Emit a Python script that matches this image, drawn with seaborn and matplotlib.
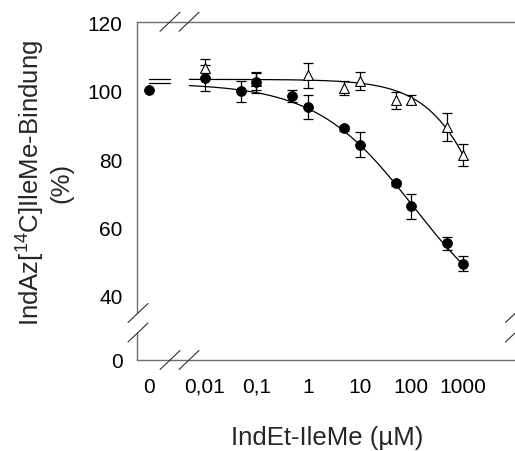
import numpy as np
import pandas as pd
import matplotlib
matplotlib.use("Agg")
import matplotlib.pyplot as plt
from matplotlib.lines import Line2D
import matplotlib.transforms as mtransforms
import seaborn as sns

# ---------------- data ----------------
# filled circles
conc_circle = [0, 0.01, 0.05, 0.1, 0.5, 1, 5, 10, 50, 100, 500, 1000]
bind_circle = [100.1, 103.6, 99.8, 102.4, 98.5, 95.2, 89.0, 84.2, 72.9, 66.2, 55.3, 49.4]
err_circle = [0.0, 3.8, 3.0, 3.2, 1.8, 3.6, 0.8, 3.7, 0.8, 3.7, 2.0, 2.3]

# open triangles
conc_tri = [0.01, 0.1, 1, 5, 10, 50, 100, 500, 1000]
bind_tri = [106.7, 102.8, 104.5, 100.8, 102.8, 97.2, 97.4, 89.4, 81.3]
err_tri = [2.7, 2.5, 3.6, 2.0, 2.6, 2.5, 1.3, 4.2, 3.2]

# fitted sigmoid parameters (top, bottom, IC50, Hill)
fit_circle = dict(top=102.2, bottom=30.0, ic50=110.0, hill=0.46)
fit_tri = dict(top=103.3, bottom=0.0, ic50=6500.0, hill=0.70)

xtick_vals = [0, 0.01, 0.1, 1, 10, 100, 1000]
xtick_labels = ["0", "0,01", "0,1", "1", "10", "100", "1000"]
ytick_vals = [0, 40, 60, 80, 100, 120]
ytick_labels = ["0", "40", "60", "80", "100", "120"]

# ---------------- style ----------------
sns.set_style("white")
plt.rcParams["font.family"] = ["Liberation Sans", "DejaVu Sans"]
plt.rcParams["mathtext.default"] = "regular"

W, H = 515, 452
SPINE = "#6e6e6e"
fig = plt.figure(figsize=(W / 100, H / 100), dpi=100)

# axes placed in pixels (left 137, top 23, bottom 361, right just outside image)
ax = fig.add_axes([137 / W, (H - 361) / H, (516 - 137) / W, (361 - 23.3) / H])

# ---------------- broken scales ----------------
X0_POS = -3.081          # scale position of concentration 0
XB = 0.005               # start of log part
XB_POS = np.log10(XB)


def xf(x):
    x = np.asarray(x, dtype=float)
    safe = np.where(x > XB, x, XB)
    lg = np.log10(safe)
    lin = X0_POS + (x / XB) * (XB_POS - X0_POS)
    return np.where(x > XB, lg, lin)


def xi(s):
    s = np.asarray(s, dtype=float)
    pw = np.power(10.0, np.clip(s, XB_POS, 50))
    lin = (s - X0_POS) / (XB_POS - X0_POS) * XB
    return np.where(s > XB_POS, pw, lin)


Y0_POS = 21.2
YB = 40.0


def yf(y):
    y = np.asarray(y, dtype=float)
    return np.where(y >= YB, y, Y0_POS + y * (YB - Y0_POS) / YB)


def yi(s):
    s = np.asarray(s, dtype=float)
    return np.where(s >= YB, s, (s - Y0_POS) * YB / (YB - Y0_POS))


ax.set_xscale("function", functions=(xf, xi))
ax.set_yscale("function", functions=(yf, yi))

# ---------------- curves ----------------
def logistic(x, p):
    x = np.asarray(x, dtype=float)
    return p["bottom"] + (p["top"] - p["bottom"]) / (1 + (x / p["ic50"]) ** p["hill"])


xc = np.logspace(np.log10(XB), 3, 200)
curves = pd.concat([
    pd.DataFrame({"x": xc, "y": logistic(xc, fit_circle), "s": "c"}),
    pd.DataFrame({"x": xc, "y": logistic(xc, fit_tri), "s": "t"}),
])
sns.lineplot(data=curves, x="x", y="y", units="s", estimator=None,
             color="black", lw=0.9, ax=ax, legend=False, sort=False, zorder=2)

# plateau pieces in the "0" segment
x_zero_end = float(xi((170 - 308) / 51.6))
for p in (fit_circle, fit_tri):
    ax.plot([0, x_zero_end], [p["top"], p["top"]], color="black", lw=0.9, zorder=2)

# ---------------- error bars + markers ----------------
ax.errorbar(conc_tri, bind_tri, yerr=err_tri, fmt="none", ecolor="black",
            elinewidth=0.9, capsize=3.6, capthick=0.9, zorder=3)
ax.errorbar(conc_circle, bind_circle, yerr=err_circle, fmt="none", ecolor="black",
            elinewidth=0.9, capsize=3.6, capthick=0.9, zorder=3)

df_t = pd.DataFrame({"x": conc_tri, "y": bind_tri})
df_c = pd.DataFrame({"x": conc_circle, "y": bind_circle})
sns.scatterplot(data=df_t, x="x", y="y", marker="^", s=50, facecolor="white",
                edgecolor="black", linewidth=0.8, ax=ax, zorder=4)
sns.scatterplot(data=df_c, x="x", y="y", marker="o", s=50, color="black",
                edgecolor="black", linewidth=0.6, ax=ax, zorder=5)

# ---------------- axes cosmetics ----------------
ax.set_xlim(float(xi((137 - 308) / 51.6)), float(xi((516 - 308) / 51.6)))
ax.set_ylim(0, 120)
ax.set_xticks(xtick_vals)
ax.set_xticklabels(xtick_labels)
ax.set_yticks(ytick_vals)
ax.set_yticklabels(ytick_labels)
ax.minorticks_off()
ax.set_xlabel("")
ax.set_ylabel("")
ax.tick_params(axis="both", direction="out", length=4, width=1, color=SPINE,
               labelsize=15, labelcolor="black")
ax.tick_params(axis="x", pad=8)
ax.tick_params(axis="y", pad=6.5)

for side in ("top", "bottom", "left"):
    ax.spines[side].set_visible(True)
    ax.spines[side].set_color(SPINE)
    ax.spines[side].set_linewidth(1.0)
ax.spines["right"].set_visible(False)

# left spine with a gap between the break marks
y_gap_top = float(yi(21.2 + (361 - 314) / 3.42))
y_gap_bot = float(yi(21.2 + (361 - 333.5) / 3.42))
ax.spines["left"].set_bounds(y_gap_top, 120)
trans = mtransforms.blended_transform_factory(ax.transAxes, ax.transData)
ax.plot([0, 0], [0, y_gap_bot], color=SPINE, lw=1.0, transform=trans,
        clip_on=False, zorder=6)

# break marks (pixel positions)
def brk(cx, cy):
    fig.add_artist(Line2D([(cx - 10) / W, (cx + 10) / W],
                          [1 - (cy + 9.5) / H, 1 - (cy - 9.5) / H],
                          color="#303030", lw=0.8))

for cx in (170, 189):
    brk(cx, 22.8)
    brk(cx, 361)
for cy in (314, 333.5):
    brk(138, cy)
    brk(515.5, cy)

# axis labels
fig.text(327 / W, 1 - 438 / H, "IndEt-IleMe (µM)", ha="center", va="center",
         fontsize=18.5)
fig.text(44 / W, 1 - 183 / H, "IndAz[$^{14}$C]IleMe-Bindung\n(%)", ha="center",
         va="center", rotation=90, fontsize=18.5, multialignment="center",
         linespacing=1.15)

fig.savefig("out.png", dpi=100)
